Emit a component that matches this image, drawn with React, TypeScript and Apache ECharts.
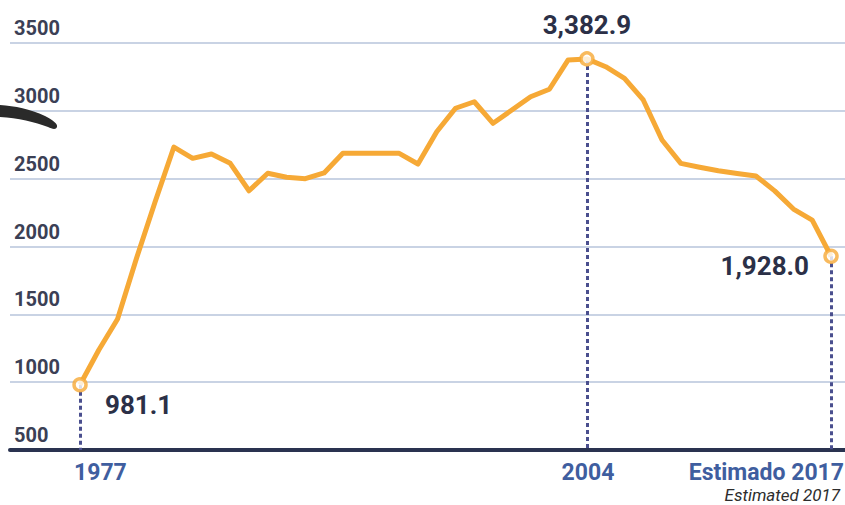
import React, { useEffect, useRef } from "react";
import * as echarts from "echarts";

const years: number[] = [
  1977, 1978, 1979, 1980, 1981, 1982, 1983, 1984, 1985, 1986, 1987, 1988, 1989, 1990,
  1991, 1992, 1993, 1994, 1995, 1996, 1997, 1998, 1999, 2000, 2001, 2002, 2003, 2004,
  2005, 2006, 2007, 2008, 2009, 2010, 2011, 2012, 2013, 2014, 2015, 2016, 2017,
];
const values: number[] = [
  981.1, 1237, 1466, 1910, 2330, 2733, 2650, 2682, 2613, 2411, 2540, 2510, 2500, 2542,
  2687, 2687, 2687, 2687, 2608, 2846, 3019, 3067, 2908, 3006, 3104, 3159, 3375, 3382.9,
  3325, 3240, 3080, 2785, 2613, 2584, 2558, 2538, 2520, 2410, 2276, 2195, 1928.0,
];
const highlightYears: number[] = [1977, 2004, 2017];
const highlightLabels: string[] = ["981.1", "3,382.9", "1,928.0"];
const xTickYears: number[] = [1977, 2004, 2017];
const xTickLabels: string[] = ["1977", "2004", "Estimado 2017"];
const xSubLabel = "Estimated 2017";
const yTicks: number[] = [500, 1000, 1500, 2000, 2500, 3000, 3500];

const ORANGE = "#f6a936";
const NAVY = "#2b3047";
const BLUE = "#3f5e9f";
const FONT = "Roboto";

const brushPath =
  "M0,105 C15,106 30,109 45,116 C53,120 58,124 57,127 C56,130 52,129 48,127 C35,122 18,118 0,117 Z";
echarts.graphic.registerShape("brush", echarts.graphic.extendPath(brushPath, {}) as any);

export default function App() {
  const ref = useRef<HTMLDivElement>(null);
  useEffect(() => {
    if (!ref.current) return;
    const chart = echarts.init(ref.current, null, { renderer: "svg" });
    const valOf = (y: number) => values[years.indexOf(y)];
    const option: any = {
      animation: false,
      backgroundColor: "#ffffff",
      grid: { left: 10, right: 0, top: 43, bottom: 55, containLabel: false },
      xAxis: {
        type: "value",
        min: 1973.27,
        max: 2017.745,
        splitLine: { show: false },
        axisTick: { show: false },
        axisLabel: { show: false },
        axisLine: { show: true, onZero: false, lineStyle: { color: "#2a3350", width: 4 } },
      },
      yAxis: {
        type: "value",
        min: 500,
        max: 3500,
        interval: 500,
        axisLine: { show: false },
        axisTick: { show: false },
        axisLabel: {
          inside: true,
          margin: 4,
          align: "left",
          verticalAlign: "bottom",
          padding: [0, 0, 5, 0],
          color: "#3b4055",
          fontFamily: FONT,
          fontWeight: "bold",
          fontSize: 20,
          formatter: (v: number) => (yTicks.includes(v) ? String(v) : ""),
        },
        splitLine: { show: true, lineStyle: { color: "#b7c5db", width: 1.5 } },
      },
      series: [
        {
          type: "line",
          data: years.map((y, i) => [y, values[i]]),
          symbol: "none",
          lineStyle: { color: ORANGE, width: 5, join: "round" },
          z: 3,
          markLine: {
            silent: true,
            symbol: ["none", "none"],
            label: { show: false },
            lineStyle: { color: "#4a4f8e", width: 3, type: [4, 3] },
            data: highlightYears.map((y) => [
              { coord: [y, valOf(y)] },
              { coord: [y, 500] },
            ]),
            z: 2,
          },
        },
        {
          type: "scatter",
          data: highlightYears.map((y) => [y, valOf(y)]),
          symbol: "circle",
          symbolSize: 12,
          itemStyle: { color: "#ffffff", borderColor: ORANGE, borderWidth: 3.5 },
          z: 5,
        },
      ],
    };
    chart.setOption(option);

    const px = (x: number, y: number) =>
      chart.convertToPixel({ gridIndex: 0 }, [x, y]) as number[];
    const p0 = px(highlightYears[0], valOf(highlightYears[0]));
    const p1 = px(highlightYears[1], valOf(highlightYears[1]));
    const p2 = px(highlightYears[2], valOf(highlightYears[2]));
    const axisY = px(1977, 500)[1];
    const t0 = px(xTickYears[0], 500);
    const t1 = px(xTickYears[1], 500);
    const t2 = px(xTickYears[2], 500);
    const valStyle = (text: string, align: string) => ({
      text,
      fill: NAVY,
      font: `bold 26px ${FONT}`,
      align,
      verticalAlign: "middle",
    });
    const tickStyle = (text: string, align: string) => ({
      text,
      fill: BLUE,
      font: `bold 23px ${FONT}`,
      lineHeight: 22,
      align,
      verticalAlign: "middle",
    });
    chart.setOption({
      graphic: [
        { type: "brush", x: 0, y: 0, style: { fill: "#2a2a2a" }, z: 10 },
        { type: "text", x: p0[0] + 25, y: p0[1] + 20, style: valStyle(highlightLabels[0], "left") },
        { type: "text", x: p1[0], y: p1[1] - 34, style: valStyle(highlightLabels[1], "center") },
        { type: "text", x: p2[0] - 22, y: p2[1] + 10, style: valStyle(highlightLabels[2], "right") },
        { type: "text", x: t0[0] - 6, y: axisY + 22, style: tickStyle(xTickLabels[0], "left") },
        { type: "text", x: t1[0] + 1, y: axisY + 22, style: tickStyle(xTickLabels[1], "center") },
        { type: "text", x: t2[0] + 13, y: axisY + 22, style: tickStyle(xTickLabels[2], "right") },
        {
          type: "text",
          x: t2[0] + 9,
          y: axisY + 45,
          style: {
            text: xSubLabel,
            fill: "#2d2d2d",
            font: `italic 17px ${FONT}`,
            lineHeight: 17,
            align: "right",
            verticalAlign: "middle",
          },
        },
      ],
    });
    return () => chart.dispose();
  }, []);
  return <div ref={ref} style={{ width: 845, height: 505, position: "fixed", left: 0, top: 0 }} />;
}
